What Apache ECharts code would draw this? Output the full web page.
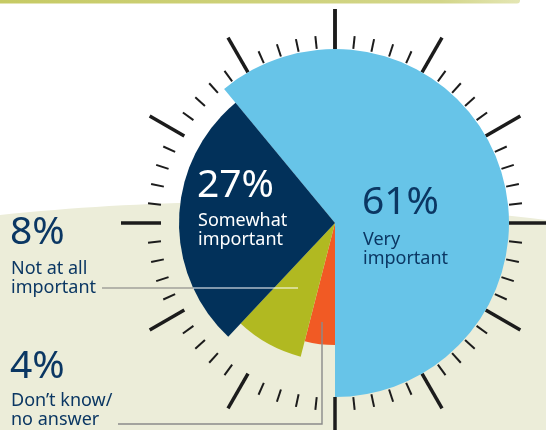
<!DOCTYPE html>
<html><head><meta charset="utf-8">
<script src="https://cdn.jsdelivr.net/npm/echarts@6/dist/echarts.min.js"></script>
<style>html,body{margin:0;padding:0;background:#fff}#c{width:546px;height:430px}</style>
</head><body><div id="c"></div>
<script>
// ---- data ----
const categories = ['Very\nimportant', 'Don\u2019t know/\nno answer', 'Not at all\nimportant', 'Somewhat\nimportant'];
const values = [61, 4, 8, 27];

// ---- styles ----
const colors = ['#67c4e8', '#f15a24', '#b1b921', '#02315a'];
const sliceRadius = [174, 122, 138, 156];
const CENTER = [335, 223];
const NAVY = '#0b3763';
const FONT = '"Noto Sans", sans-serif';

const total = values.reduce((a, b) => a + b, 0);
// first slice ends exactly at the bottom of the dial
const startAngle = 90 + values[0] / total * 360 - 180;

const pies = values.map((v, i) => ({
  type: 'pie', center: CENTER, radius: [0, sliceRadius[i]],
  startAngle: startAngle, clockwise: true, silent: true, animation: false,
  avoidLabelOverlap: false, label: { show: false }, labelLine: { show: false },
  emphasis: { disabled: true }, z: 3,
  data: values.map((vv, j) => ({
    value: vv, name: categories[j],
    itemStyle: { color: j === i ? colors[j] : 'rgba(0,0,0,0)', borderWidth: 0 }
  }))
}));

const dial = {
  type: 'gauge', center: CENTER, radius: 214, startAngle: 90, endAngle: -270,
  min: 0, max: 60, splitNumber: 12, silent: true, animation: false, z: 2,
  axisLine: { show: false, lineStyle: { width: 0 } },
  progress: { show: false }, pointer: { show: false }, anchor: { show: false },
  title: { show: false }, detail: { show: false }, axisLabel: { show: false },
  splitLine: { show: true, length: 40, distance: 0, lineStyle: { color: '#1c1c1c', width: 3.5, cap: 'butt' } },
  axisTick: { show: true, splitNumber: 5, length: 13, distance: 26, lineStyle: { color: '#1c1c1c', width: 2, cap: 'butt' } },
  data: [{ value: 0 }]
};

// decorative background curve (quadratic bezier sampled)
const bgPts = [];
for (let k = 0; k <= 40; k++) {
  const t = k / 40;
  const x = 2 * (1 - t) * t * 273 + t * t * 546;
  const y = (1 - t) * (1 - t) * 215 + 2 * (1 - t) * t * 186.5 + t * t * 220;
  bgPts.push([x, y]);
}
bgPts.push([546, 430], [0, 430]);

function pctText(i, x, y, fill) {
  return { type: 'text', z: 100, x: x, y: y, silent: true,
    style: { text: values[i] + '%', fill: fill, fontSize: 39, fontFamily: FONT, verticalAlign: 'middle', align: 'left' } };
}
function nameText(i, x, y, fill) {
  return { type: 'text', z: 100, x: x, y: y, silent: true,
    style: { text: categories[i], fill: fill, fontSize: 18, lineHeight: 18.5, fontFamily: FONT, verticalAlign: 'top', align: 'left' } };
}

const chart = echarts.init(document.getElementById('c'), null, { renderer: 'canvas' });
chart.setOption({
  backgroundColor: '#ffffff',
  animation: false,
  graphic: [
    { type: 'polygon', z: -10, silent: true, shape: { points: bgPts }, style: { fill: '#ecedd9' } },
    { type: 'rect', z: 100, silent: true,
      shape: { x: 0, y: 0, width: 520, height: 3.5, r: [0, 0, 3, 0] },
      style: { fill: { type: 'linear', x: 0, y: 0, x2: 1, y2: 0, colorStops: [
        { offset: 0, color: '#c6ca64' }, { offset: 0.85, color: '#d3d68a' }, { offset: 1, color: '#e4e6b4' }] } } },
    // leader lines
    { type: 'line', z: 90, silent: true, shape: { x1: 102, y1: 288, x2: 193, y2: 288 }, style: { stroke: '#7d7d7d', lineWidth: 1.2 } },
    { type: 'line', z: 90, silent: true, shape: { x1: 193, y1: 288, x2: 298, y2: 288 }, style: { stroke: '#ffffff', lineWidth: 1.2 } },
    { type: 'polyline', z: 90, silent: true, shape: { points: [[118, 424], [322, 424], [322, 322]] }, style: { stroke: '#8a8a8a', lineWidth: 1.4, fill: null } },
    // labels
    pctText(3, 197, 186, '#ffffff'),
    nameText(3, 198, 212, '#ffffff'),
    pctText(0, 362, 202.5, NAVY),
    nameText(0, 363, 231, NAVY),
    pctText(2, 10, 232.5, NAVY),
    nameText(2, 11, 260, NAVY),
    pctText(1, 10, 367, NAVY),
    nameText(1, 11, 392, NAVY)
  ],
  series: [dial].concat(pies)
});
</script></body></html>
